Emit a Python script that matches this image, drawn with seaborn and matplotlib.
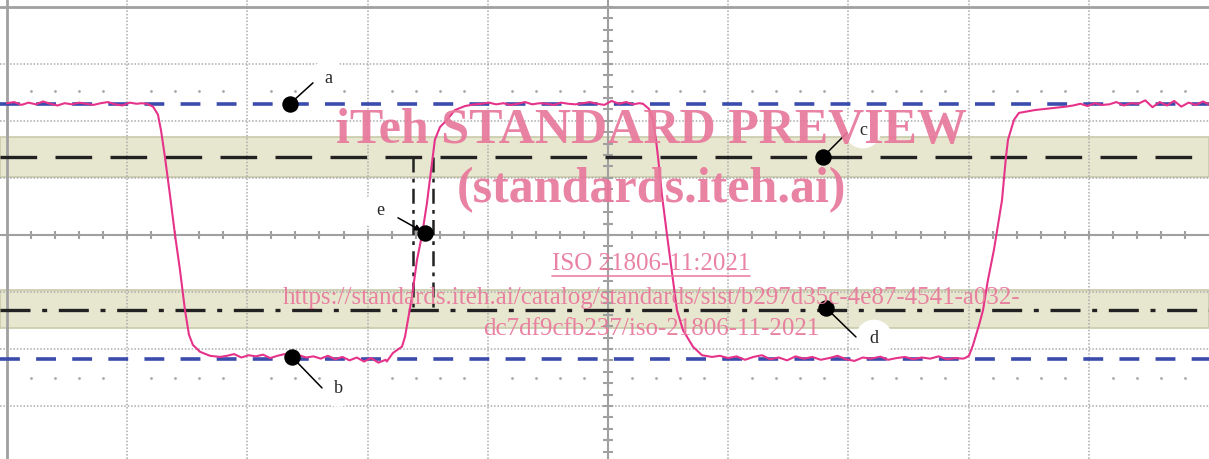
import numpy as np
import pandas as pd
import matplotlib
matplotlib.use('Agg')
import matplotlib.pyplot as plt
import seaborn as sns

# values in screen divisions (x: time div, y: volt div, 0 = centre line)
high1_t = [0.00, 0.06, 0.12, 0.18, 0.24, 0.30, 0.36, 0.42, 0.48, 0.54, 0.60, 0.66, 0.72, 0.78, 0.84, 0.90, 0.96, 1.02, 1.08, 1.12]
high1_v = [2.31, 2.33, 2.28, 2.32, 2.29, 2.34, 2.30, 2.27, 2.31, 2.29, 2.32, 2.30, 2.28, 2.31, 2.33, 2.29, 2.27, 2.32, 2.30, 2.31]

fall1_t = [1.165, 1.215, 1.256, 1.281, 1.314, 1.356, 1.398, 1.439, 1.481, 1.514, 1.547, 1.606, 1.689, 1.772]
fall1_v = [2.30, 2.25, 2.11, 1.84, 1.37, 0.70, 0.00, -0.61, -1.32, -1.75, -1.93, -2.05, -2.12, -2.14]

low1_t = [1.83, 1.89, 1.95, 2.01, 2.07, 2.13, 2.19, 2.25, 2.31, 2.37, 2.43, 2.49, 2.55, 2.61, 2.67, 2.73, 2.79, 2.85, 2.91, 2.97, 3.03, 3.09, 3.15]
low1_v = [-2.12, -2.09, -2.15, -2.11, -2.13, -2.10, -2.16, -2.12, -2.09, -2.14, -2.11, -2.15, -2.13, -2.17, -2.12, -2.18, -2.14, -2.20, -2.15, -2.22, -2.16, -2.24, -2.19]

rise1_t = [3.16, 3.211, 3.286, 3.311, 3.336, 3.369, 3.411, 3.453, 3.494, 3.536, 3.560, 3.602, 3.661, 3.727, 3.810, 3.890]
rise1_v = [-2.22, -2.07, -1.96, -1.79, -1.49, -1.09, -0.44, 0.00, 0.56, 1.26, 1.67, 1.89, 2.02, 2.19, 2.26, 2.29]

high2_t = [3.95, 4.01, 4.07, 4.13, 4.19, 4.25, 4.31, 4.37, 4.43, 4.49, 4.55, 4.61, 4.67, 4.73, 4.79, 4.85, 4.91, 4.97, 5.03, 5.09, 5.15, 5.21, 5.26]
high2_v = [2.30, 2.32, 2.29, 2.31, 2.28, 2.30, 2.33, 2.29, 2.31, 2.30, 2.28, 2.32, 2.30, 2.29, 2.31, 2.33, 2.30, 2.28, 2.35, 2.30, 2.33, 2.29, 2.31]

fall2_t = [5.291, 5.341, 5.374, 5.399, 5.416, 5.449, 5.491, 5.574, 5.624, 5.707, 5.782, 5.865]
fall2_v = [2.30, 2.21, 2.02, 1.67, 1.37, 0.70, 0.00, -1.32, -1.67, -1.96, -2.11, -2.14]

low2_t = [5.93, 6.00, 6.07, 6.14, 6.21, 6.28, 6.35, 6.42, 6.49, 6.56, 6.63, 6.70, 6.77, 6.84, 6.91,
          6.98, 7.05, 7.12, 7.19, 7.26, 7.33, 7.40, 7.47, 7.54, 7.61, 7.68, 7.75, 7.82, 7.89, 7.95]
low2_v = [-2.12, -2.16, -2.13, -2.19, -2.14, -2.11, -2.18, -2.15, -2.20, -2.13, -2.17, -2.14, -2.19, -2.16, -2.12,
          -2.18, -2.21, -2.15, -2.17, -2.13, -2.19, -2.16, -2.14, -2.18, -2.15, -2.17, -2.13, -2.18, -2.16, -2.17]

rise2_t = [7.970, 8.003, 8.037, 8.087, 8.120, 8.161, 8.211, 8.278, 8.311, 8.328, 8.378, 8.419, 8.552, 8.810]
rise2_v = [-2.16, -2.12, -1.93, -1.58, -1.32, -0.79, -0.26, 0.61, 1.37, 1.67, 2.02, 2.14, 2.19, 2.25]

high3_t = [8.87, 8.93, 8.99, 9.05, 9.11, 9.17, 9.23, 9.29, 9.35, 9.41, 9.47, 9.53, 9.59, 9.65, 9.71, 9.77, 9.83, 9.89, 9.95, 10.0]
high3_v = [2.27, 2.30, 2.26, 2.31, 2.28, 2.29, 2.33, 2.27, 2.31, 2.30, 2.36, 2.24, 2.33, 2.27, 2.35, 2.25, 2.32, 2.28, 2.34, 2.29]

# reference levels
level_high = 2.30
level_low = -2.17
upper_band = (1.02, 1.72)
upper_threshold = 1.37
lower_band = (-1.63, -0.965)
lower_threshold = -1.32
cursor_t = [3.378, 3.544]

# labelled points
labels = ['a', 'b', 'c', 'd', 'e']
point_t = [2.354, 2.371, 6.789, 6.814, 3.478]
point_v = [2.30, -2.14, 1.37, -1.28, 0.035]
label_t = [2.671, 2.754, 7.121, 7.213, 3.103]
label_v = [2.74, -2.69, 1.84, -1.81, 0.42]
leader_t = [2.546, 2.621, 6.988, 7.063, 3.253]
leader_v = [2.667, -2.684, 1.79, -1.79, 0.30]

wm_lines = ['iTeh STANDARD PREVIEW', '(standards.iteh.ai)', 'ISO 21806-11:2021',
            'https://standards.iteh.ai/catalog/standards/sist/b297d35c-4e87-4541-a032-',
            'dc7df9cfb237/iso-21806-11-2021']

trace = pd.DataFrame({
    't': high1_t + fall1_t + low1_t + rise1_t + high2_t + fall2_t + low2_t + rise2_t + high3_t,
    'v': high1_v + fall1_v + low1_v + rise1_v + high2_v + fall2_v + low2_v + rise2_v + high3_v,
})
points = pd.DataFrame({'t': point_t, 'v': point_v, 'label': labels})

sns.set_style('white')
fig = plt.figure(figsize=(12.09, 4.59), dpi=100)
ax = fig.add_axes([0, 0, 1, 1])
ax.set_xlim(-0.058, 10.0)
ax.set_ylim(-3.93, 4.12)
ax.axis('off')

grid_c = '#ababab'

# shaded bands
for lo, hi in [upper_band, lower_band]:
    ax.axhspan(lo, hi, facecolor='#e7e7cf', edgecolor='#c9c9aa', lw=1.2, zorder=0)

# dotted grid
for i in range(1, 10):
    if i != 5:
        ax.axvline(i, color=grid_c, lw=1.1, ls=(0, (1, 1.2)), zorder=1)
for j in range(-3, 4):
    if j != 0:
        ax.axhline(j, color=grid_c, lw=1.1, ls=(0, (1, 1.2)), zorder=1)

# frame and centre axes
ax.axhline(4.0, color='#a0a0a0', lw=2, zorder=1)
ax.axvline(0.0, color='#a0a0a0', lw=2, zorder=1)
ax.axhline(0.0, color='#a0a0a0', lw=1.5, zorder=1)
ax.axvline(5.0, color='#a0a0a0', lw=1.5, zorder=1)
xt = np.arange(0.2, 10.0, 0.2)
ax.vlines(xt, -0.07, 0.07, color='#a0a0a0', lw=1.5, zorder=1)
yt = np.arange(-4.0, 4.01, 0.2)
ax.hlines(yt, 4.96, 5.04, color='#a0a0a0', lw=1.5, zorder=1)

# sparse dot rows
dx = np.array([x for x in xt if abs(x - round(x)) > 0.05])
ax.scatter(dx, np.full_like(dx, 2.53), s=4, color='#a8a8a8', lw=0, zorder=1)
ax.scatter(dx, np.full_like(dx, -2.51), s=4, color='#a8a8a8', lw=0, zorder=1)

# reference lines
ax.axhline(level_high, color='#3b4cad', lw=2.6, ls=(0, (5.5, 4.5)), zorder=2)
ax.axhline(level_low, color='#3b4cad', lw=2.6, ls=(0, (5.5, 4.5)), zorder=2)
ax.axhline(upper_threshold, color='#222222', lw=2.4, ls=(0, (11, 5.5)), zorder=2)
ax.axhline(lower_threshold, color='#222222', lw=2.4, ls=(0, (9, 3.5, 1.5, 3.5)), zorder=2)
for ct in cursor_t:
    ax.plot([ct, ct], [upper_threshold, lower_threshold], color='#222222', lw=1.8,
            ls=(0, (6, 2.5, 1.5, 2.5)), zorder=2)

# signal trace
sns.lineplot(data=trace, x='t', y='v', sort=False, estimator=None, color='#e6338a', lw=1.5, ax=ax, zorder=3)

# labelled points
sns.scatterplot(data=points, x='t', y='v', color='black', s=140, lw=0, ax=ax, zorder=5, legend=False)
for name, pt, pv, lt, lv, st, sv in zip(labels, point_t, point_v, label_t, label_v, leader_t, leader_v):
    ax.text(lt, lv, name, fontsize=13, family='Liberation Serif', ha='center', va='center', zorder=4,
            bbox=dict(boxstyle='circle,pad=0.55', fc='white', ec='none'))
    style = '-|>' if name == 'e' else '-'
    ax.annotate('', xy=(pt, pv), xytext=(st, sv), zorder=6,
                arrowprops=dict(arrowstyle=style, color='black', lw=1.1, shrinkA=0, shrinkB=3,
                                mutation_scale=9))

# watermark
wm_col = '#e8789b'
xc = 5.358
ax.text(xc, 1.614, wm_lines[0], ha='center', va='baseline', fontsize=36, fontweight='bold',
        family='Liberation Serif', color=wm_col, alpha=0.92, zorder=7)
ax.text(xc, 0.579, wm_lines[1], ha='center', va='baseline', fontsize=36, fontweight='bold',
        family='Liberation Serif', color=wm_col, alpha=0.92, zorder=7)
iso = ax.text(xc, -0.614, wm_lines[2], ha='center', va='baseline', fontsize=18,
              family='Liberation Serif', color=wm_col, alpha=0.92, zorder=7)
ax.text(xc, -1.21, wm_lines[3], ha='center', va='baseline', fontsize=18,
        family='Liberation Serif', color=wm_col, alpha=0.92, zorder=7)
ax.text(xc, -1.754, wm_lines[4], ha='center', va='baseline', fontsize=18,
        family='Liberation Serif', color=wm_col, alpha=0.92, zorder=7)

# underline the ISO line
fig.canvas.draw()
bb = iso.get_window_extent().transformed(ax.transData.inverted())
ax.plot([bb.x0, bb.x1], [bb.y0 - 0.02, bb.y0 - 0.02], color=wm_col, lw=1.2, alpha=0.92, zorder=7)

fig.savefig('out.png', dpi=100)
